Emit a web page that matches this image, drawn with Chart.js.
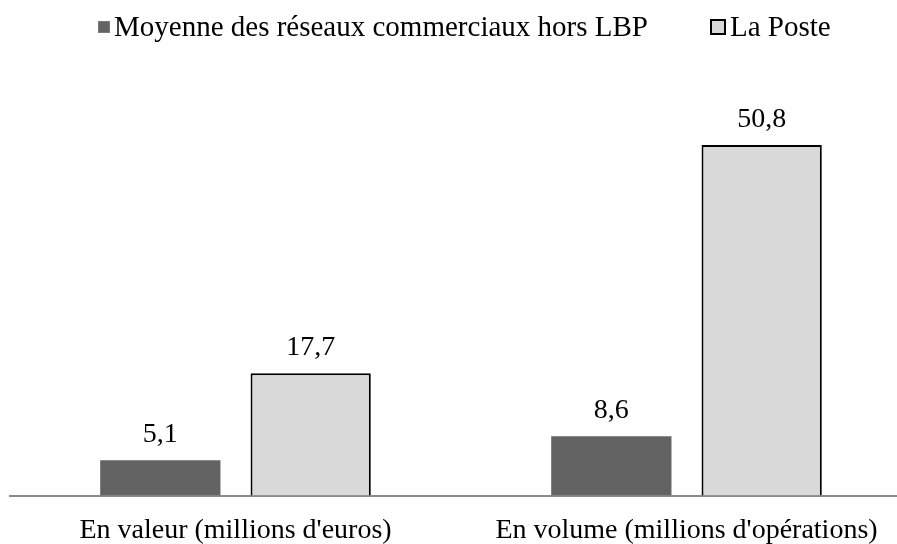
<!DOCTYPE html>
<html>
<head>
<meta charset="utf-8">
<script src="https://cdn.jsdelivr.net/npm/chart.js@4.4.1/dist/chart.umd.min.js"></script>
<style>
  html, body { margin: 0; padding: 0; background: #fff; overflow: hidden; }
  #wrap { width: 912px; height: 544px; position: relative; }
</style>
</head>
<body>
<div id="wrap"><canvas id="chart"></canvas></div>
<script>
// ================= DATA =================
const categories = ["En valeur (millions d'euros)", "En volume (millions d'opérations)"];
const seriesNames = ["Moyenne des réseaux commerciaux hors LBP", "La Poste"];
const moyenneValues = [5.1, 8.6];
const postValues = [17.7, 50.8];

const FONT = "'Liberation Serif', 'DejaVu Serif', serif";
const FS = 28;

const fmt = v => v.toFixed(1).replace(".", ",");

// ================= PLUGINS =================
// value labels above bars
const valueLabels = {
    id: "valueLabels",
    afterDatasetsDraw(chart) {
        const ctx = chart.ctx;
        ctx.save();
        ctx.font = `${FS}px ${FONT}`;
        ctx.fillStyle = "#000";
        ctx.textAlign = "center";
        ctx.textBaseline = "alphabetic";
        chart.data.datasets.forEach((ds, i) => {
            chart.getDatasetMeta(i).data.forEach((bar, j) => {
                ctx.fillText(fmt(ds.data[j]), bar.x, bar.y - 18);
            });
        });
        ctx.restore();
    }
};

// legend: small square + label, placed like the original
const legendX = [98, 710];
const topLegend = {
    id: "topLegend",
    afterDraw(chart) {
        const ctx = chart.ctx;
        ctx.save();
        ctx.font = `29px ${FONT}`;
        ctx.textBaseline = "middle";
        const y = 27;
        chart.data.datasets.forEach((ds, i) => {
            const x = legendX[i];
            const bw = ds.borderWidth || 1;
            const size = bw > 1 ? 16 : 12;
            ctx.fillStyle = ds.backgroundColor;
            ctx.fillRect(x, y - size / 2, size, size);
            ctx.lineWidth = bw;
            ctx.strokeStyle = ds.legendBorder;
            ctx.strokeRect(x + bw / 2, y - size / 2 + bw / 2, size - bw, size - bw);
            ctx.fillStyle = "#000";
            ctx.fillText(ds.label, x + size + 4, y + 1);
        });
        ctx.restore();
    }
};

// ================= CHART =================
new Chart(document.getElementById("chart"), {
    type: "bar",
    data: {
        labels: categories,
        datasets: [
            {
                label: seriesNames[0],
                data: moyenneValues,
                backgroundColor: "#636363",
                borderWidth: 0,
                legendBorder: "#7a7a7a"
            },
            {
                label: seriesNames[1],
                data: postValues,
                backgroundColor: "#d9d9d9",
                borderColor: "#000",
                borderWidth: 2,
                legendBorder: "#000"
            }
        ]
    },
    plugins: [valueLabels, topLegend],
    options: {
        responsive: true,
        maintainAspectRatio: false,
        animation: false,
        layout: { padding: { left: 10, right: 0, top: 81.5, bottom: 0 } },
        datasets: { bar: { categoryPercentage: 2 / 3, barPercentage: 0.8 } },
        plugins: { legend: { display: false }, tooltip: { enabled: false } },
        scales: {
            x: {
                grid: { display: false, drawTicks: false },
                border: { display: true, color: "#8c8c8c", width: 2 },
                ticks: { color: "#000", padding: 18, maxRotation: 0, font: { family: FONT, size: FS } },
                afterFit(scale) { scale.height = 48.5; }
            },
            y: {
                display: false,
                min: 0,
                max: 60
            }
        }
    }
});
</script>
</body>
</html>
